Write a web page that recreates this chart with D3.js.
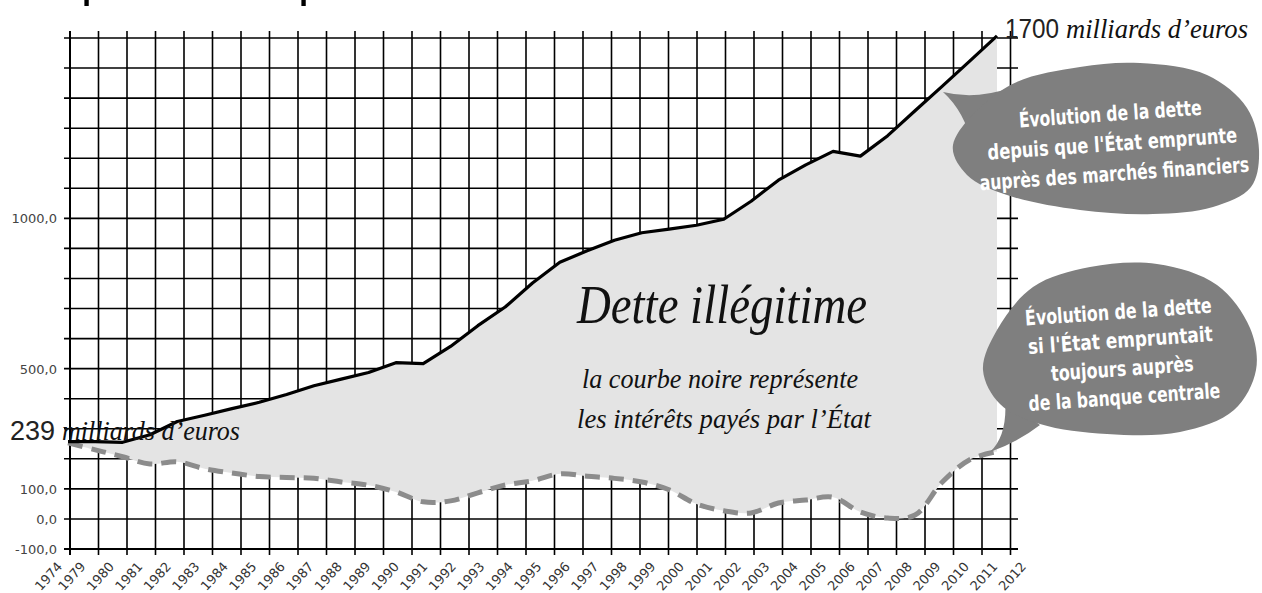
<!DOCTYPE html>
<html>
<head>
<meta charset="utf-8">
<script src="https://cdn.jsdelivr.net/npm/d3@7"></script>
<style>
  body { margin: 0; background: #fff; }
  svg { display: block; }
</style>
</head>
<body>
<svg id="chart"></svg>
<script>
// categories shown on the x axis (1974 is squeezed next to 1979)
const categories = ["1974", "1979", "1980", "1981", "1982", "1983", "1984", "1985", "1986", "1987",
  "1988", "1989", "1990", "1991", "1992", "1993", "1994", "1995", "1996", "1997", "1998", "1999",
  "2000", "2001", "2002", "2003", "2004", "2005", "2006", "2007", "2008", "2009", "2010", "2011", "2012"];
const gridYears = categories.slice(1);

// debt (billions of euros) - state borrowing on financial markets
const detteMarches = [257, 257, 255, 280, 324, 345, 367, 388, 414, 443, 465, 487, 520, 517, 574, 643,
  705, 785, 854, 892, 927, 952, 964, 977, 997, 1057, 1127, 1178, 1223, 1207, 1275, 1358, 1440, 1523, 1607];
// debt if the state had kept borrowing from the central bank
const detteBanque = [253, 230, 207, 183, 190, 167, 153, 141, 138, 135, 123, 112, 90, 57, 60, 87,
  113, 127, 150, 142, 135, 123, 97, 50, 27, 20, 53, 63, 72, 23, 3, 13, 123, 197, 224];

const yTickValues = [-100, 0, 100, 500, 1000];

const width = 1262, height = 593;
const svg = d3.select("#chart").attr("width", width).attr("height", height);

const x = d3.scalePoint().domain(categories).range([68, 997]);
const gridX = d3.scaleBand().domain(gridYears).range([70, 1039]);
const y = d3.scaleLinear().domain([-100, 1600]).range([549, 38]);

const data = categories.map((c, i) => ({ cat: c, marches: detteMarches[i], banque: detteBanque[i] }));

// remnants of the title, cut off by the top edge
svg.append("g")
  .selectAll("text")
  .data([81, 298])
  .join("text")
  .attr("x", (d) => d)
  .attr("y", -4)
  .attr("font-family", "Liberation Sans, sans-serif")
  .attr("font-size", 50)
  .text("p");

// Grid
const grid = svg.append("g").attr("stroke", "#000");
grid.selectAll("line.h")
  .data(d3.range(-100, 1601, 100))
  .join("line")
  .attr("class", "h")
  .attr("x1", 64).attr("x2", 1018)
  .attr("y1", (d) => y(d)).attr("y2", (d) => y(d))
  .attr("stroke-width", (d) => (d === -100 ? 2 : 1.6));
grid.selectAll("line.v")
  .data(gridYears)
  .join("line")
  .attr("class", "v")
  .attr("x1", (d) => gridX(d)).attr("x2", (d) => gridX(d))
  .attr("y1", 31).attr("y2", 555)
  .attr("stroke-width", (d, i) => (i === 0 ? 2 : 1.6));

// Y labels
svg.append("g")
  .selectAll("text")
  .data(yTickValues)
  .join("text")
  .attr("x", 57)
  .attr("y", (d) => y(d) + 5)
  .attr("text-anchor", "end")
  .attr("font-family", "DejaVu Sans, sans-serif")
  .attr("font-size", 13)
  .attr("fill", "#444")
  .text((d) => d3.format(".1f")(d).replace(".", ",").replace("−", "-"));

// X labels
const xLabels = svg.append("g")
  .attr("font-family", "DejaVu Sans, sans-serif")
  .attr("font-size", 13)
  .attr("fill", "#333");
xLabels.selectAll("text")
  .data(categories)
  .join("text")
  .attr("transform", (d) => {
    const px = d === "1974" ? 63 : gridX(d) + gridX.bandwidth() / 2 + 2;
    return `translate(${px},${567}) rotate(-48)`;
  })
  .attr("text-anchor", "end")
  .text((d) => d);

// Fill between the two series
const upperPath = d3.line().x((d) => x(d.cat)).y((d) => y(d.marches))(data);
const lowerPath = d3.line().curve(d3.curveCatmullRom).x((d) => x(d.cat)).y((d) => y(d.banque))(data.slice().reverse());
svg.append("path")
  .attr("d", upperPath + "L" + lowerPath.slice(1) + "Z")
  .attr("fill", "#e4e4e4");

// Dashed series
svg.append("path")
  .datum(data)
  .attr("d", d3.line().curve(d3.curveCatmullRom).x((d) => x(d.cat)).y((d) => y(d.banque)))
  .attr("fill", "none")
  .attr("stroke", "#8c8c8c")
  .attr("stroke-width", 5)
  .attr("stroke-dasharray", "15 9");

// Black series
svg.append("path")
  .datum(data)
  .attr("d", d3.line().x((d) => x(d.cat)).y((d) => y(d.marches)))
  .attr("fill", "none")
  .attr("stroke", "#000")
  .attr("stroke-width", 3.2)
  .attr("stroke-linejoin", "round");

// Annotations
const script = "Liberation Serif, serif";
const ann = svg.append("g").attr("fill", "#111");
ann.append("text")
  .attr("x", 577).attr("y", 323)
  .attr("font-family", script).attr("font-style", "italic").attr("font-size", 54)
  .attr("textLength", 290).attr("lengthAdjust", "spacingAndGlyphs")
  .text("Dette illégitime");
ann.append("text")
  .attr("x", 582).attr("y", 388)
  .attr("font-family", script).attr("font-style", "italic").attr("font-size", 28)
  .attr("textLength", 276).attr("lengthAdjust", "spacingAndGlyphs")
  .text("la courbe noire représente");
ann.append("text")
  .attr("x", 577).attr("y", 428)
  .attr("font-family", script).attr("font-style", "italic").attr("font-size", 28)
  .attr("textLength", 294).attr("lengthAdjust", "spacingAndGlyphs")
  .text("les intérêts payés par l’État");

const endLabel = ann.append("text").attr("x", 1005).attr("y", 38);
endLabel.append("tspan").attr("font-family", "Liberation Sans, sans-serif").attr("font-size", 28).attr("fill", "#222")
  .attr("textLength", 54).attr("lengthAdjust", "spacingAndGlyphs").text("1700");
endLabel.append("tspan").attr("x", 1066).attr("font-family", script).attr("font-style", "italic").attr("font-size", 27)
  .attr("textLength", 182).attr("lengthAdjust", "spacingAndGlyphs").text("milliards d’euros");

const startLabel = ann.append("text").attr("x", 10).attr("y", 440);
startLabel.append("tspan").attr("font-family", "Liberation Sans, sans-serif").attr("font-size", 28).attr("fill", "#222")
  .attr("textLength", 45).attr("lengthAdjust", "spacingAndGlyphs").text("239");
startLabel.append("tspan").attr("x", 62).attr("font-family", script).attr("font-style", "italic").attr("font-size", 27)
  .attr("textLength", 178).attr("lengthAdjust", "spacingAndGlyphs").text("milliards d’euros");

// Speech bubbles (outline traced as a closed smooth blob)
const bubbles = [
  { outline: [[953, 145], [1007, 87], [1080, 67], [1140, 63], [1207, 75], [1247, 108], [1259, 150], [1251, 187],
      [1213, 207], [1153, 214], [1080, 210], [1007, 195], [967, 175]],
    tail: "M943,92 Q975,100 1010,88 L972,145 Q965,112 943,92 Z",
    lines: ["Évolution de la dette", "depuis que l'État emprunte", "auprès des marchés financiers"],
    widths: [183, 250, 270], tx: 1112, cy: 140, y0: 121, dy: 30 },
  { outline: [[983, 370], [997, 330], [1033, 287], [1090, 267], [1157, 264], [1217, 285], [1250, 328], [1256, 370],
      [1234, 410], [1180, 432], [1107, 434], [1040, 424], [1000, 404]],
    tail: "M990,452 Q1008,435 1005,398 L1040,425 Q1018,442 990,452 Z",
    lines: ["Évolution de la dette", "si l'État empruntait", "toujours auprès", "de la banque centrale"],
    widths: [187, 185, 143, 192], tx: 1121, cy: 350, y0: 319, dy: 28.5 }
];
const blob = d3.line().curve(d3.curveCatmullRomClosed);
const bub = svg.append("g").selectAll("g").data(bubbles).join("g");
bub.append("path").attr("d", (d) => d.tail).attr("fill", "#7f7f7f");
bub.append("path").attr("d", (d) => blob(d.outline)).attr("fill", "#7f7f7f");
bub.each(function (d) {
  const t = d3.select(this).append("g").attr("transform", `rotate(-4,${d.tx},${d.cy})`);
  t.selectAll("text")
    .data(d.lines)
    .join("text")
    .attr("x", (l, i) => d.tx - d.widths[i] / 2)
    .attr("y", (l, i) => d.y0 + i * d.dy)
    .attr("font-family", "Liberation Sans Narrow, DejaVu Sans, sans-serif")
    .attr("font-weight", "bold")
    .attr("font-size", 21)
    .attr("fill", "#fff")
    .attr("textLength", (l, i) => d.widths[i])
    .attr("lengthAdjust", "spacingAndGlyphs")
    .text((l) => l);
});
</script>
</body>
</html>
